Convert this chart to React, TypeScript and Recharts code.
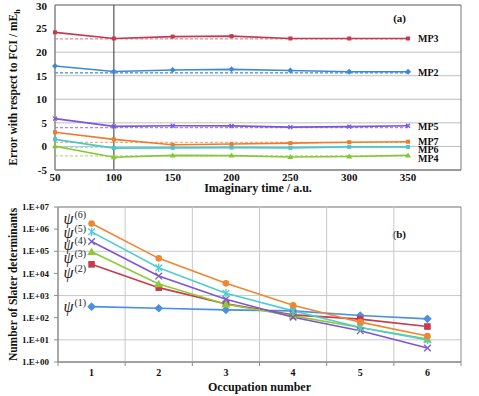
import React from 'react'
import { LineChart, Line, XAxis, YAxis, CartesianGrid, ReferenceLine, ReferenceArea } from 'recharts'

// panel (a): error vs imaginary time
const times = [50, 100, 150, 200, 250, 300, 350]
const mp3 = [24.2, 22.9, 23.3, 23.4, 22.9, 22.9, 22.9]
const mp2 = [17.05, 15.9, 16.2, 16.35, 16.1, 15.85, 15.85]
const mp5 = [5.9, 4.25, 4.4, 4.35, 4.1, 4.2, 4.4]
const mp7 = [3.0, 1.5, 0.35, 0.5, 0.7, 0.9, 1.0]
const mp6 = [1.5, -0.35, -0.3, -0.25, -0.3, -0.1, -0.1]
const mp4 = [0.05, -2.3, -1.9, -1.95, -2.25, -2.15, -1.9]
const mpNames = ['MP3', 'MP2', 'MP5', 'MP7', 'MP6', 'MP4']
const mpRefs = [22.8, 15.6, 4.0, 0.85, -0.2, -2.0]
const errTicks = [-5, 0, 5, 10, 15, 20, 25, 30]

// panel (b): number of Slater determinants
const occupation = [1, 2, 3, 4, 5, 6]
const psi1 = [316, 269, 225, 204, 125, 89]
const psi2 = [25700, 2280, 420, 134, 86, 40]
const psi3 = [95000, 3330, 407, 121, 36, 10.8]
const psi4 = [277000, 7600, 680, 105, 25.6, 4.3]
const psi5 = [755000, 18000, 1270, 204, 36, 10]
const psi6 = [1800000, 48000, 3560, 366, 63, 14.8]
const psiNames = ['(1)', '(2)', '(3)', '(4)', '(5)', '(6)']
const decadeTicks = [1, 10, 100, 1000, 10000, 100000, 1000000, 10000000]

const mpSeries = [mp3, mp2, mp5, mp7, mp6, mp4]
const psiSeries = [psi1, psi2, psi3, psi4, psi5, psi6]

const errData = times.map((t, i) => {
  const row: any = { t }
  mpNames.forEach((n, k) => { row[n] = mpSeries[k][i] })
  return row
})

const slaterData = occupation.map((o, i) => {
  const row: any = { o }
  psiNames.forEach((n, k) => { row['psi' + k] = psiSeries[k][i] })
  return row
})

const occTicks = occupation.flatMap(n => [n - 0.5, n]).concat(occupation[occupation.length - 1] + 0.5)

const FONT = "'Liberation Serif', 'DejaVu Serif', serif"

const mpStyle: { [k: string]: { color: string; ref: string; shape: string; dy: number } } = {
  MP3: { color: '#C23A50', ref: '#E58A98', shape: 'square', dy: 0 },
  MP2: { color: '#3D89D8', ref: '#3D89D8', shape: 'diamond', dy: 0 },
  MP5: { color: '#7A56D8', ref: '#A58BE6', shape: 'x', dy: 0 },
  MP7: { color: '#EE7B2C', ref: '#F5B080', shape: 'square', dy: -1 },
  MP6: { color: '#4CC6C6', ref: '#9EE2E2', shape: 'square', dy: 2 },
  MP4: { color: '#86C634', ref: '#B8DE7C', shape: 'triangle', dy: 3 },
}

const psiStyle = [
  { color: '#4A8FE0', shape: 'diamond', dy: 0 },
  { color: '#C8384F', shape: 'square', dy: 9 },
  { color: '#8DCB36', shape: 'triangle', dy: 6 },
  { color: '#7D55D6', shape: 'x', dy: 4 },
  { color: '#4FCDCF', shape: 'star', dy: 1 },
  { color: '#F08532', shape: 'circle', dy: -4 },
]

function Marker({ cx, cy, shape, color, r }: { cx: number; cy: number; shape: string; color: string; r: number }) {
  if (cx == null || cy == null) return null
  if (shape === 'square') return <rect x={cx - r} y={cy - r} width={2 * r} height={2 * r} fill={color} />
  if (shape === 'diamond') return <polygon points={`${cx},${cy - r - 1} ${cx + r + 1},${cy} ${cx},${cy + r + 1} ${cx - r - 1},${cy}`} fill={color} />
  if (shape === 'triangle') return <polygon points={`${cx},${cy - r - 1} ${cx + r + 1},${cy + r} ${cx - r - 1},${cy + r}`} fill={color} />
  if (shape === 'circle') return <circle cx={cx} cy={cy} r={r} fill={color} />
  return (
    <g>
      <line x1={cx - r} y1={cy - r} x2={cx + r} y2={cy + r} stroke={color} strokeWidth={1.3} />
      <line x1={cx - r} y1={cy + r} x2={cx + r} y2={cy - r} stroke={color} strokeWidth={1.3} />
      {shape === 'star' && <line x1={cx} y1={cy - r - 1} x2={cx} y2={cy + r + 1} stroke={color} strokeWidth={1.3} />}
    </g>
  )
}

const boldText = { fontFamily: FONT, fontWeight: 700, fill: '#111' }

function ErrorPanel() {
  return (
    <LineChart width={479} height={200} data={errData} margin={{ top: 5, right: 18, left: 0, bottom: 0 }}>
      <CartesianGrid vertical={false} stroke="#BFBFBF" />
      <XAxis
        dataKey="t"
        type="number"
        domain={[50, 395]}
        ticks={times}
        tickLine={false}
        tickSize={3}
        tickMargin={0}
        stroke="#8C8C8C"
        height={30}
        tick={{ ...boldText, fontSize: 11 }}
        label={{
          content: ({ viewBox }: any) => (
            <text x={viewBox.x + viewBox.width / 2} y={viewBox.y + 22} textAnchor="middle" {...boldText} fontSize={12}>
              Imaginary time / a.u.
            </text>
          ),
        }}
      />
      <YAxis
        domain={[-5, 30]}
        ticks={errTicks}
        width={55}
        tickLine={false}
        tickSize={0}
        tickMargin={8}
        stroke="#8C8C8C"
        tick={{ ...boldText, fontSize: 11 }}
        label={{
          content: ({ viewBox }: any) => {
            const cy = viewBox.y + viewBox.height / 2
            return (
              <text x={17} y={cy} transform={`rotate(-90 17 ${cy})`} textAnchor="middle" {...boldText} fontSize={11.5}>
                Error with respect to FCI / mE<tspan fontSize={8} dy={3}>h</tspan>
              </text>
            )
          },
        }}
      />
      <ReferenceArea
        x1={50}
        x2={395}
        y1={-5}
        y2={30}
        fill="none"
        stroke="#777"
        label={{
          content: ({ viewBox }: any) => (
            <text x={viewBox.x + viewBox.width - 55} y={viewBox.y + 17} textAnchor="end" {...boldText} fontSize={11}>
              (a)
            </text>
          ),
        }}
      />
      <ReferenceLine x={100} stroke="#555" strokeWidth={1.2} />
      {mpNames.map((n, k) => (
        <ReferenceLine
          key={'ref' + n}
          segment={[{ x: times[0], y: mpRefs[k] }, { x: times[times.length - 1], y: mpRefs[k] }]}
          stroke={mpStyle[n].ref}
          strokeDasharray="3 2"
          strokeWidth={1.3}
        />
      ))}
      {mpNames.map(n => (
        <Line
          key={n}
          dataKey={n}
          stroke={mpStyle[n].color}
          strokeWidth={1.6}
          isAnimationActive={false}
          dot={(p: any) => <Marker key={p.index} cx={p.cx} cy={p.cy} r={2} shape={mpStyle[n].shape} color={mpStyle[n].color} />}
          activeDot={false}
          label={(p: any) =>
            p.index === times.length - 1 ? (
              <text key={p.index} x={p.x + 10} y={p.y + 4 + mpStyle[n].dy} {...boldText} fontSize={10}>
                {n}
              </text>
            ) : null
          }
        />
      ))}
    </LineChart>
  )
}

function OccTick({ x, y, payload }: any) {
  const v = payload.value
  if (Number.isInteger(v)) {
    return (
      <text x={x} y={y + 14} textAnchor="middle" {...boldText} fontSize={10}>
        {v}
      </text>
    )
  }
  return <line x1={x} x2={x} y1={y} y2={y + 4} stroke="#8C8C8C" />
}

function SlaterPanel() {
  return (
    <LineChart width={479} height={196} data={slaterData} margin={{ top: 7, right: 18, left: 0, bottom: 0 }}>
      <CartesianGrid vertical={false} stroke="#C8C8C8" />
      {occupation.slice(0, -1).map(o => (
        <ReferenceLine key={'v' + o} x={o + 0.5} stroke="#C8C8C8" />
      ))}
      <XAxis
        dataKey="o"
        type="number"
        domain={[0.5, 6.5]}
        ticks={occTicks}
        tickLine={false}
        tickSize={0}
        tickMargin={0}
        stroke="#8C8C8C"
        height={34}
        tick={<OccTick />}
        label={{
          content: ({ viewBox }: any) => (
            <text x={viewBox.x + viewBox.width / 2} y={viewBox.y + 29} textAnchor="middle" {...boldText} fontSize={12}>
              Occupation number
            </text>
          ),
        }}
      />
      <YAxis
        scale="log"
        domain={[1, 10000000]}
        ticks={decadeTicks}
        allowDataOverflow
        width={58}
        tickSize={4}
        tickMargin={5}
        stroke="#8C8C8C"
        tickFormatter={(v: number) => '1.E+' + String(Math.round(Math.log10(v))).padStart(2, '0')}
        tick={{ ...boldText, fontSize: 9 }}
        label={{
          content: ({ viewBox }: any) => {
            const cy = viewBox.y + viewBox.height / 2
            return (
              <text x={17} y={cy} transform={`rotate(-90 17 ${cy})`} textAnchor="middle" {...boldText} fontSize={11.5}>
                Number of Slater determinants
              </text>
            )
          },
        }}
      />
      <ReferenceArea
        x1={0.5}
        x2={6.5}
        y1={1}
        y2={10000000}
        fill="none"
        stroke="#8C8C8C"
        label={{
          content: ({ viewBox }: any) => (
            <text x={viewBox.x + viewBox.width - 55} y={viewBox.y + 31} textAnchor="end" {...boldText} fontSize={11}>
              (b)
            </text>
          ),
        }}
      />
      {psiNames.map((n, k) => (
        <Line
          key={n}
          dataKey={'psi' + k}
          stroke={psiStyle[k].color}
          strokeWidth={1.6}
          isAnimationActive={false}
          dot={(p: any) => <Marker key={p.index} cx={p.cx} cy={p.cy} r={3.3} shape={psiStyle[k].shape} color={psiStyle[k].color} />}
          activeDot={false}
          label={(p: any) =>
            p.index === 0 ? (
              <text key={p.index} x={p.x - 28} y={p.y + psiStyle[k].dy + 5} fontFamily={FONT} fill="#222">
                <tspan fontSize={16} fontStyle="italic">ψ</tspan>
                <tspan fontSize={10} dy={-6} dx={1}>{n}</tspan>
              </text>
            ) : null
          }
        />
      ))}
    </LineChart>
  )
}

export default function App() {
  return (
    <div style={{ position: 'absolute', left: 0, top: 0, width: 479, height: 396, background: '#fff' }}>
      <ErrorPanel />
      <SlaterPanel />
    </div>
  )
}
